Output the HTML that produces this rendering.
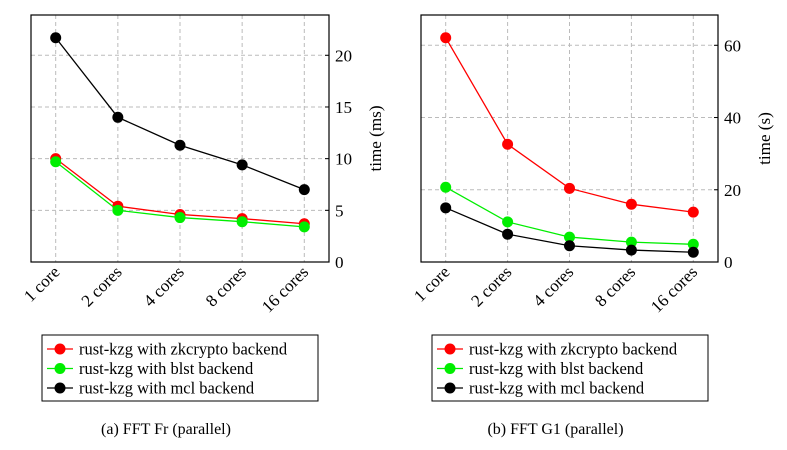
<!DOCTYPE html>
<html><head><meta charset="utf-8"><style>
body{margin:0;background:#fff;}
svg, svg text{font-family:"Liberation Serif",serif;}
svg{display:block;}
</style></head><body>
<svg id="s" width="787" height="450"></svg>
<script>
const categories=["1 core","2 cores","4 cores","8 cores","16 cores"];
const seriesNames=["rust-kzg with zkcrypto backend","rust-kzg with blst backend","rust-kzg with mcl backend"];
const seriesColors=["#ff0000","#00ee00","#000000"];
const frZk=[10.0,5.4,4.6,4.2,3.7];
const frBlst=[9.7,5.0,4.3,3.9,3.4];
const frMcl=[21.7,14.0,11.3,9.4,7.0];
const g1Zk=[62.1,32.6,20.4,16.0,13.8];
const g1Blst=[20.7,11.1,6.9,5.5,4.9];
const g1Mcl=[15.0,7.7,4.5,3.3,2.7];
const frTicks=[0,5,10,15,20];
const g1Ticks=[0,20,40,60];
const NS="http://www.w3.org/2000/svg";
const svg=document.getElementById('s');
const FF="Liberation Serif, serif";
function mk(t,a,p){const e=document.createElementNS(NS,t);for(const k in a)e.setAttribute(k,a[k]);if(t==='text')e.setAttribute('font-family',FF);(p||svg).appendChild(e);return e;}
const S=1.07;
function chart(id,x0,x1,yMaxPx,yMaxVal,ticks,series,ylabel,caption){
  const y0=262,top=15;
  const g=mk('g',{});
  
  
  const xs=i=>x0+24.7+i*(x1-x0-49.4)/4;
  const ys=v=>y0-v*(y0-yMaxPx)/yMaxVal;
  categories.forEach((c,i)=>{const l=mk('line',{x1:xs(i),x2:xs(i),y1:top,y2:y0,stroke:'#bbb','stroke-dasharray':'4 3','stroke-width':1},g);
    
    const t=mk('text',{x:0,y:0,'font-size':16,'text-anchor':'end',transform:`translate(${xs(i)+5},${y0+11}) rotate(-45) scale(${S})`},g);t.textContent=c;
    });
  ticks.forEach(v=>{if(v>0){const l=mk('line',{x1:x0,x2:x1,y1:ys(v),y2:ys(v),stroke:'#bbb','stroke-dasharray':'4 3'},g);
    }
    const k=mk('line',{x1:x1-4,x2:x1,y1:ys(v),y2:ys(v),stroke:'#000'},g);
    const t=mk('text',{x:0,y:0,'font-size':16,transform:`translate(${x1+6},${ys(v)+6}) scale(${S})`},g);t.textContent=v;
    });
  const f=mk('rect',{x:x0,y:top,width:x1-x0,height:y0-top,fill:'none',stroke:'#000','stroke-width':1.2},g);
  
  const yl=mk('text',{x:0,y:0,'font-size':16,'text-anchor':'middle',transform:`translate(${x1+52},${(top+y0)/2}) rotate(-90) scale(${S})`},g);yl.textContent=ylabel;
  
  series.forEach((d,si)=>{
    const p=mk('polyline',{points:d.map((v,i)=>xs(i)+','+ys(v)).join(' '),fill:'none',stroke:seriesColors[si],'stroke-width':1.3},g);
    
    d.forEach((v,i)=>{const c=mk('circle',{cx:xs(i),cy:ys(v),r:5.5,fill:seriesColors[si]},g);
      });
  });
  const lx=x0+11,ly=335;
  const lb=mk('rect',{x:lx,y:ly,width:276,height:66,fill:'#fff',stroke:'#000'},g);
  
  seriesNames.forEach((n,i)=>{const yy=ly+14+i*19.5;
    const l=mk('line',{x1:lx+5,x2:lx+31,y1:yy,y2:yy,stroke:seriesColors[i],'stroke-width':1.3},g);
    
    const c=mk('circle',{cx:lx+18,cy:yy,r:5.5,fill:seriesColors[i]},g);
    
    const t=mk('text',{x:0,y:0,'font-size':16,transform:`translate(${lx+37},${yy+5.5}) scale(1.03)`},g);t.textContent=n;
    });
  const cp=mk('text',{x:(x0+x1)/2-14,y:434,'font-size':16,'text-anchor':'middle'},g);cp.textContent=caption;
  
}
chart('chart-fft-fr',31,329,55.3,20,frTicks,[frZk,frBlst,frMcl],'time (ms)','(a) FFT Fr (parallel)');
chart('chart-fft-g1',421,718,45.3,60,g1Ticks,[g1Zk,g1Blst,g1Mcl],'time (s)','(b) FFT G1 (parallel)');
</script>
</body></html>
